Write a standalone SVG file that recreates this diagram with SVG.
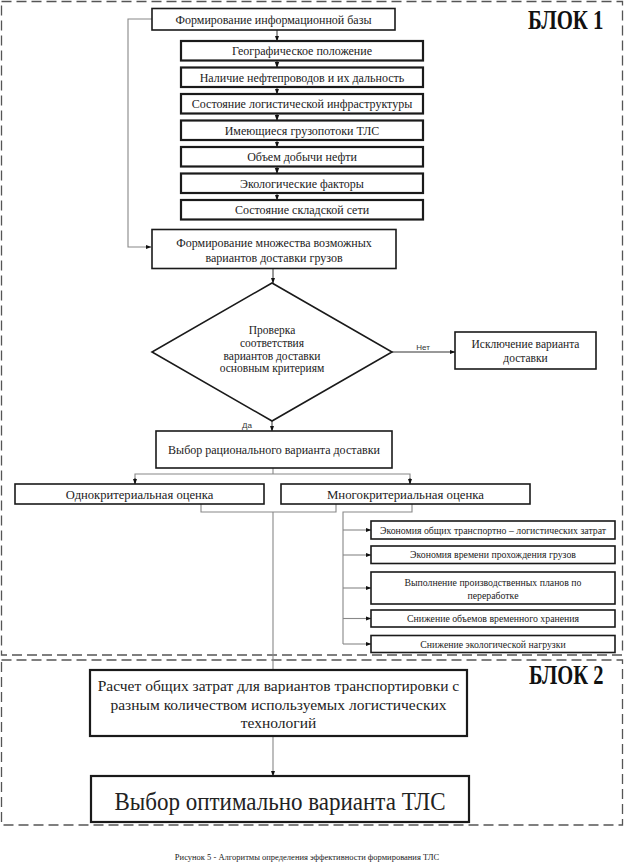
<svg xmlns="http://www.w3.org/2000/svg" width="624" height="866" viewBox="0 0 624 866">
<defs>
<marker id="ah" markerWidth="6" markerHeight="6" refX="5.5" refY="3" orient="auto" markerUnits="userSpaceOnUse">
<path d="M0,0.8 L6,3 L0,5.2 z" fill="#111"/>
</marker>
<style>
.blk{fill:none;stroke:#555;stroke-width:1.3;stroke-dasharray:10 5}
.box{fill:#fff;stroke:#1a1a1a;stroke-width:1.6}
.bx2{fill:#fff;stroke:#1a1a1a;stroke-width:2.2}
.t{font-family:"Liberation Serif","Times New Roman",serif;fill:#222;text-anchor:middle}
.lbl{font-family:"Liberation Sans",Arial,sans-serif;font-size:8px;fill:#333;text-anchor:middle}
.c{fill:none;stroke:#888;stroke-width:1.1}
.cd{fill:none;stroke:#333;stroke-width:1}
.big{font-family:"Liberation Serif","Times New Roman",serif;font-weight:bold;font-size:27px;fill:#111}
</style>
</defs>

<g id="blocks">
<rect class="blk" x="1.5" y="1.5" width="621" height="653.5"/>
<rect class="blk" x="1.5" y="660" width="621" height="165"/>
<text class="big" transform="translate(528,29) scale(0.77,1)" x="0" y="0">БЛОК 1</text>
<text class="big" transform="translate(529,684) scale(0.76,1)" x="0" y="0">БЛОК 2</text>
</g>

<g id="connectors">
<polyline class="c" points="152,19 128,19 128,247 151,247" marker-end="url(#ah)"/>
<line class="cd" x1="277" y1="30" x2="277" y2="41" marker-end="url(#ah)"/>
<line class="cd" x1="277" y1="60.5" x2="277" y2="67.5" marker-end="url(#ah)"/>
<line class="cd" x1="277" y1="87" x2="277" y2="94" marker-end="url(#ah)"/>
<line class="cd" x1="277" y1="113.5" x2="277" y2="120.5" marker-end="url(#ah)"/>
<line class="cd" x1="277" y1="140" x2="277" y2="147" marker-end="url(#ah)"/>
<line class="cd" x1="277" y1="166.5" x2="277" y2="173.5" marker-end="url(#ah)"/>
<line class="cd" x1="277" y1="193" x2="277" y2="200" marker-end="url(#ah)"/>
<line class="cd" x1="273" y1="268.5" x2="273" y2="283" marker-end="url(#ah)"/>
<line class="cd" x1="392" y1="352" x2="455" y2="352" marker-end="url(#ah)"/>
<line class="cd" x1="272" y1="421" x2="272" y2="431" marker-end="url(#ah)"/>
<polyline class="c" points="273,468 273,474"/>
<polyline class="c" points="135,484 135,474 410,474 410,484"/>
<line class="cd" x1="135" y1="478" x2="135" y2="484" marker-end="url(#ah)"/>
<line class="cd" x1="410" y1="478" x2="410" y2="484" marker-end="url(#ah)"/>
<polyline class="c" points="201,504 201,512 336,512 336,504"/>
<line class="c" x1="273" y1="512" x2="273" y2="670"/>
<polyline class="c" points="412,504 412,512 343,512 343,644"/>
<line class="c" x1="343" y1="530" x2="371" y2="530" marker-end="url(#ah)"/>
<line class="c" x1="343" y1="555" x2="371" y2="555" marker-end="url(#ah)"/>
<line class="c" x1="343" y1="588" x2="371" y2="588" marker-end="url(#ah)"/>
<line class="c" x1="343" y1="618.5" x2="371" y2="618.5" marker-end="url(#ah)"/>
<line class="c" x1="343" y1="644" x2="371" y2="644" marker-end="url(#ah)"/>
<line class="c" x1="273" y1="736" x2="273" y2="776" marker-end="url(#ah)"/>
<text class="lbl" x="423" y="350">Нет</text>
<text class="lbl" x="247" y="428">Да</text>
</g>

<g id="n-info">
<rect class="box" x="152" y="8.5" width="243" height="21.5"/>
<text class="t" x="273.5" y="23.5" font-size="12">Формирование информационной базы</text>
</g>
<g id="n-geo">
<rect class="bx2" x="181" y="41" width="242" height="19.5"/>
<text class="t" x="302" y="55" font-size="12">Географическое положение</text>
</g>
<g id="n-pipe">
<rect class="bx2" x="181" y="67.5" width="242" height="19.5"/>
<text class="t" x="302" y="81.5" font-size="12">Наличие нефтепроводов и их дальность</text>
</g>
<g id="n-infra">
<rect class="bx2" x="181" y="94" width="242" height="19.5"/>
<text class="t" x="302" y="108" font-size="12">Состояние логистической инфраструктуры</text>
</g>
<g id="n-flows">
<rect class="bx2" x="181" y="120.5" width="242" height="19.5"/>
<text class="t" x="302" y="134.5" font-size="12">Имеющиеся грузопотоки ТЛС</text>
</g>
<g id="n-oil">
<rect class="bx2" x="181" y="147" width="242" height="19.5"/>
<text class="t" x="302" y="161" font-size="12">Объем добычи нефти</text>
</g>
<g id="n-eco">
<rect class="bx2" x="181" y="173.5" width="242" height="19.5"/>
<text class="t" x="302" y="187.5" font-size="12">Экологические факторы</text>
</g>
<g id="n-store">
<rect class="bx2" x="181" y="200" width="242" height="19.5"/>
<text class="t" x="302" y="214" font-size="12">Состояние складской сети</text>
</g>

<g id="n-set">
<rect class="box" x="152" y="229.5" width="244" height="39"/>
<text class="t" x="274" y="247" font-size="12">Формирование множества возможных</text>
<text class="t" x="274" y="262" font-size="12">вариантов доставки грузов</text>
</g>

<g id="n-check">
<polygon class="box" points="272,283 392,352 272,421 152,352"/>
<text class="t" x="272" y="334" font-size="11.5">Проверка</text>
<text class="t" x="272" y="347" font-size="11.5">соответствия</text>
<text class="t" x="272" y="359.5" font-size="11.5">вариантов доставки</text>
<text class="t" x="272" y="372" font-size="11.5">основным критериям</text>
</g>

<g id="n-exclude">
<rect class="box" x="455" y="332" width="141" height="37"/>
<text class="t" x="525.5" y="348" font-size="11.5">Исключение варианта</text>
<text class="t" x="525.5" y="362" font-size="11.5">доставки</text>
</g>

<g id="n-rational">
<rect class="box" x="156" y="431" width="236" height="37"/>
<text class="t" x="274" y="454" font-size="12">Выбор рационального варианта доставки</text>
</g>

<g id="n-single">
<rect class="box" x="15" y="484" width="249" height="20"/>
<text class="t" x="139.5" y="498.5" font-size="12.6">Однокритериальная оценка</text>
</g>
<g id="n-multi">
<rect class="box" x="281" y="484" width="249" height="20"/>
<text class="t" x="405.5" y="498.5" font-size="12.8">Многокритериальная оценка</text>
</g>

<g id="n-c1">
<rect class="box" x="371" y="521" width="244" height="18"/>
<text class="t" x="493" y="533.5" font-size="9.8">Экономия общих транспортно – логистических затрат</text>
</g>
<g id="n-c2">
<rect class="box" x="371" y="546" width="244" height="17.5"/>
<text class="t" x="493" y="558.3" font-size="9.8">Экономия времени прохождения грузов</text>
</g>
<g id="n-c3">
<rect class="box" x="371" y="572" width="244" height="32"/>
<text class="t" x="493" y="585.5" font-size="9.8">Выполнение производственных планов по</text>
<text class="t" x="493" y="598.5" font-size="9.8">переработке</text>
</g>
<g id="n-c4">
<rect class="box" x="371" y="610" width="244" height="17"/>
<text class="t" x="493" y="622" font-size="9.8">Снижение объемов временного хранения</text>
</g>
<g id="n-c5">
<rect class="box" x="371" y="635.5" width="244" height="17"/>
<text class="t" x="493" y="647.5" font-size="9.8">Снижение экологической нагрузки</text>
</g>

<g id="n-calc">
<rect class="bx2" x="90" y="670" width="377" height="66"/>
<text class="t" x="278.5" y="691" font-size="15.5">Расчет общих затрат  для вариантов транспортировки с</text>
<text class="t" x="278.5" y="709.5" font-size="15.5">разным количеством используемых логистических</text>
<text class="t" x="278.5" y="728" font-size="15.5">технологий</text>
</g>

<g id="n-optimal">
<rect class="bx2" x="91" y="776" width="378" height="46"/>
<text class="t" x="280" y="810" font-size="25" textLength="331" lengthAdjust="spacingAndGlyphs">Выбор оптимально варианта ТЛС</text>
</g>

<g id="caption">
<text class="t" x="307" y="860" font-size="8.5">Рисунок 5 -  Алгоритмы определения эффективности формирования ТЛС</text>
</g>
</svg>
